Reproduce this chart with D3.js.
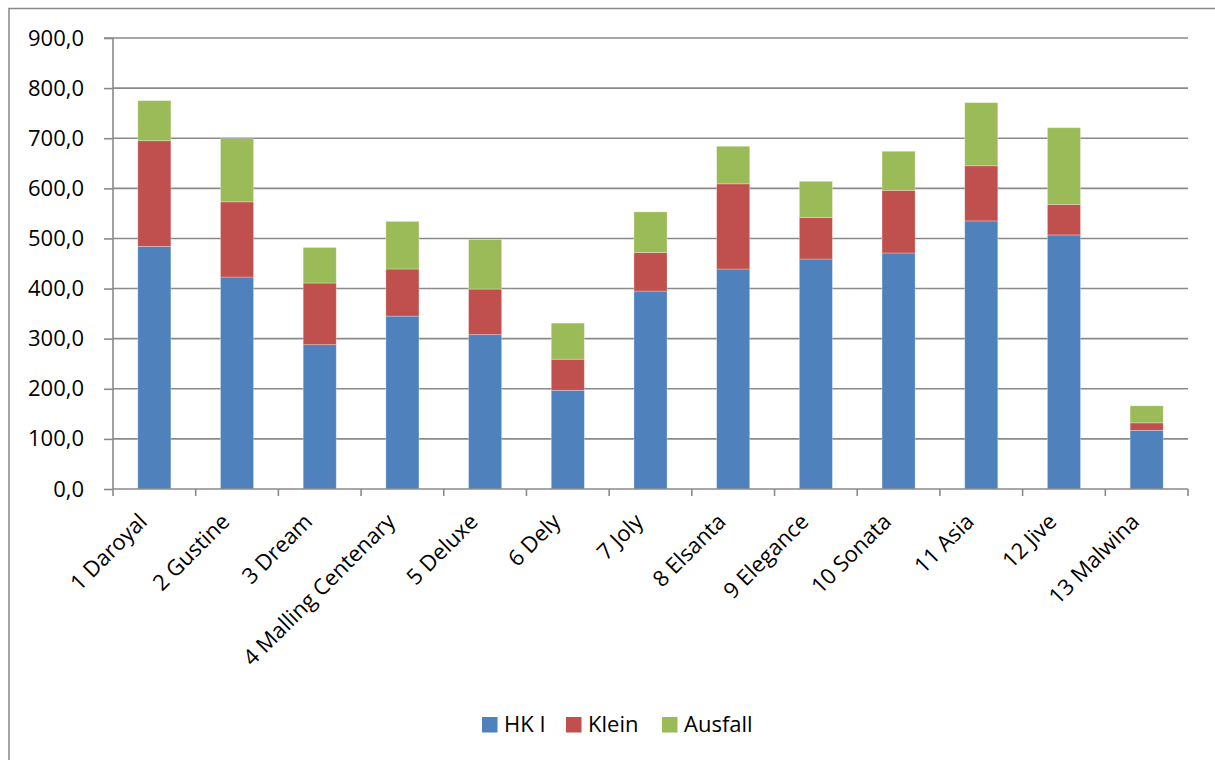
<!DOCTYPE html>
<html>
<head>
<meta charset="utf-8">
<script src="https://cdn.jsdelivr.net/npm/d3@7"></script>
<style>
  html, body { margin: 0; padding: 0; background: #fff; }
  svg { display: block; }
  text { font-family: "Open Sans", "Noto Sans", sans-serif; fill: #000; }
</style>
</head>
<body>
<svg id="chart" width="1215" height="760"></svg>
<script>
// Varieties and their yield split (HK I, Klein, Ausfall)
const categories = ["1 Daroyal", "2 Gustine", "3 Dream", "4 Malling Centenary", "5 Deluxe",
  "6 Dely", "7 Joly", "8 Elsanta", "9 Elegance", "10 Sonata", "11 Asia", "12 Jive", "13 Malwina"];
const hkI     = [484, 423, 288, 345, 308, 197, 395, 439, 459, 471, 535, 507, 117];
const klein   = [211, 150, 123,  94,  91,  62,  77, 170,  83, 125, 110,  61,  15];
const ausfall = [ 80, 126,  71,  95,  99,  72,  81,  75,  72,  78, 126, 153,  34];
const seriesNames = ["HK I", "Klein", "Ausfall"];
const seriesColors = ["#4F81BD", "#C0504D", "#9BBB59"];
const yTicks = [0, 100, 200, 300, 400, 500, 600, 700, 800, 900];

const rows = categories.map((c, i) => ({ cat: c, "HK I": hkI[i], "Klein": klein[i], "Ausfall": ausfall[i] }));
const stacked = d3.stack().keys(seriesNames)(rows);

const svg = d3.select("#chart");
const plotL = 113, plotR = 1188, plotT = 38, plotB = 489;
const fontSize = 22;

const x = d3.scaleBand().domain(categories).range([plotL, plotR]).paddingInner(0.6).paddingOuter(0.3);
const xb = d3.scaleBand().domain(categories).range([plotL, plotR]);
const y = d3.scaleLinear().domain([0, 900]).range([plotB, plotT]);

// Chart frame
svg.append("rect").attr("x", 9).attr("y", 8.5).attr("width", 1230).attr("height", 780)
  .attr("fill", "none").attr("stroke", "#888").attr("stroke-width", 1.5);

// Horizontal gridlines
svg.append("g").selectAll("line").data(yTicks.filter(t => t > 0)).join("line")
  .attr("x1", plotL).attr("x2", plotR)
  .attr("y1", d => y(d)).attr("y2", d => y(d))
  .attr("stroke", "#8a8a8a").attr("stroke-width", 1.6);

// Stacked bars
svg.append("g").selectAll("g").data(stacked).join("g")
  .attr("fill", (d, i) => seriesColors[i])
  .selectAll("rect").data(d => d).join("rect")
  .attr("x", d => x(d.data.cat))
  .attr("width", x.bandwidth())
  .attr("y", d => y(d[1]))
  .attr("height", d => y(d[0]) - y(d[1]))
  .attr("stroke", "rgba(255,255,255,0.35)").attr("stroke-width", 0.8);

// Y axis
const yAxis = d3.axisLeft(y).tickValues(yTicks).tickSize(9).tickPadding(20)
  .tickFormat(d => d3.format(".1f")(d).replace(".", ","));
const gy = svg.append("g").attr("transform", `translate(${plotL},0)`).call(yAxis);
gy.select(".domain").attr("stroke", "#8a8a8a").attr("stroke-width", 1.6).attr("d", `M-9,${plotT}H0V${plotB}`);
gy.selectAll(".tick line").attr("stroke", "#8a8a8a").attr("stroke-width", 1.6);
gy.selectAll(".tick text").attr("font-size", fontSize).attr("font-family", "\"Open Sans\", sans-serif").attr("fill", "#000");

// X axis baseline with boundary ticks
const gx = svg.append("g");
gx.append("line").attr("x1", plotL).attr("x2", plotR).attr("y1", plotB).attr("y2", plotB)
  .attr("stroke", "#8a8a8a").attr("stroke-width", 1.6);
const bounds = categories.map(c => xb(c)).concat([plotR]);
gx.selectAll("line.tk").data(bounds).join("line").attr("class", "tk")
  .attr("x1", d => d).attr("x2", d => d).attr("y1", plotB).attr("y2", plotB + 7)
  .attr("stroke", "#8a8a8a").attr("stroke-width", 1.6);

// Rotated category labels
gx.selectAll("text").data(categories).join("text")
  .attr("transform", d => `translate(${xb(d) + xb.bandwidth() / 2 - 6},${plotB + 34}) rotate(-45)`)
  .attr("text-anchor", "end")
  .attr("font-size", fontSize)
  .text(d => d);

// Legend
const legendItems = [
  { name: seriesNames[0], color: seriesColors[0], x: 482 },
  { name: seriesNames[1], color: seriesColors[1], x: 566 },
  { name: seriesNames[2], color: seriesColors[2], x: 662 }
];
const lg = svg.append("g");
lg.selectAll("rect").data(legendItems).join("rect")
  .attr("x", d => d.x).attr("y", 717).attr("width", 15.5).attr("height", 15.5)
  .attr("fill", d => d.color);
lg.selectAll("text").data(legendItems).join("text")
  .attr("x", d => d.x + 22).attr("y", 732)
  .attr("font-size", fontSize)
  .text(d => d.name);
</script>
</body>
</html>
